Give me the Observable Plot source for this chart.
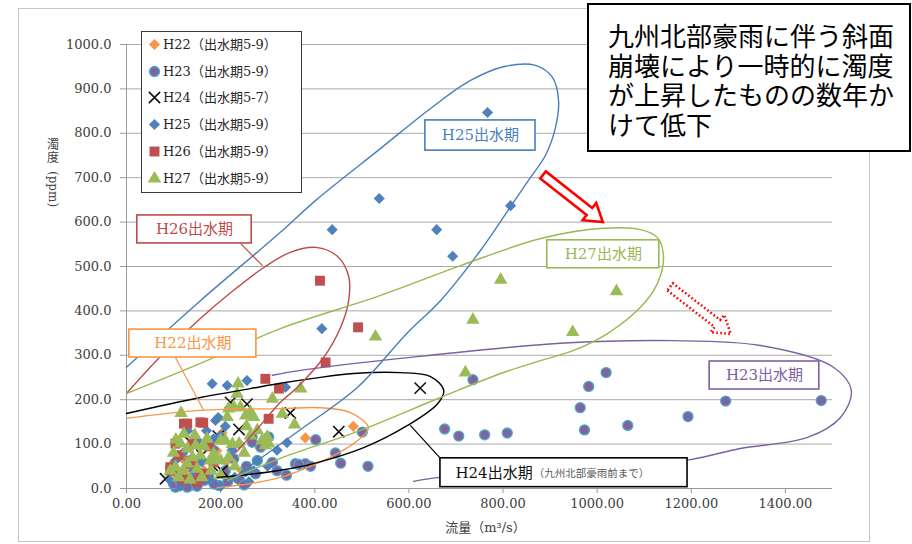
<!DOCTYPE html>
<html lang="ja">
<head>
<meta charset="utf-8">
<script src="https://cdn.jsdelivr.net/npm/d3@7"></script>
<script src="https://cdn.jsdelivr.net/npm/@observablehq/plot@0.6"></script>
<style>
  html, body { margin: 0; padding: 0; background: #fff; }
  #wrap { position: relative; width: 912px; height: 544px; overflow: hidden; }
  #wrap > svg { position: absolute; left: 0; top: 0; }
  #frame { position: absolute; left: 18px; top: 8px; width: 852px; height: 534px;
           border: 1.5px solid #c3c3c3; box-sizing: border-box; pointer-events: none; }
  .ytitle { position: absolute; font: 12px "DejaVu Serif", "Noto Sans CJK JP", serif; color: #404040;
            line-height: 12px; white-space: nowrap; }
  #ytitle-rot { transform-origin: 0 0; transform: rotate(90deg); }
  #legend { position: absolute; left: 141px; top: 31px; width: 161px; height: 162px;
            border: 1.5px solid #3a3a3a; background: #fff; box-sizing: border-box; }
  #legend .row { position: absolute; left: 0; height: 20px; line-height: 20px; white-space: nowrap;
                 font: 13px "DejaVu Serif", "Noto Sans CJK JP", serif; color: #262626; }
  #legend .row svg { position: absolute; left: 6px; top: 4px; }
  #legend .row span { position: absolute; left: 21px; }
  #note { position: absolute; left: 587px; top: 3px; width: 324px; height: 149px; box-sizing: border-box;
          border: 2px solid #000; background: #fff; padding: 15px 0 0 19px; white-space: nowrap;
          font: 26px "Noto Sans CJK JP", sans-serif; color: #000; }
  #note div { height: 29.5px; line-height: 29.5px; }
</style>
</head>
<body>
<div id="wrap"></div>
<script>
// Axis ticks
const xTicks = [0, 200, 400, 600, 800, 1000, 1200, 1400];
const yTicks = [0, 100, 200, 300, 400, 500, 600, 700, 800, 900, 1000];

// Series names (flood season, months)
const seriesNames = ["H22（出水期5-9）", "H23（出水期5-9）", "H24（出水期5-7）",
                     "H25（出水期5-9）", "H26（出水期5-9）", "H27（出水期5-9）"];

// Observations: [flow m³/s, turbidity ppm]
const h22 = [[203,125],[380,114],[482,140],[95,52],[102,35],[110,20],[118,68],[128,45],[140,28],
             [152,58],[165,40],[178,22],[192,85],[212,60],[228,95],[245,40],[160,100]];
const h23 = [[1019,261],[982,230],[964,182],[973,132],[1065,142],[1193,162],[1273,197],[1476,198],
             [736,245],[676,134],[706,118],[761,121],[809,125],[501,127],[402,110],[444,80],[455,57],
             [513,50],[359,56],[380,56],[391,50],[366,54],[267,116],[302,116],[285,93],[267,104],
             [278,63],[310,59],[274,33],[228,67],[210,40],[196,7],[186,10],[136,7],[129,3],[104,3],
             [100,10],[115,15],[150,5],[165,18],[240,20],[255,50],[320,40],[340,30],[120,30],[145,35],
             [175,30],[215,15],[250,8]];
const h24 = [[624,226],[451,128],[348,170],[221,194],[256,190],[239,133],[136,104],[195,118],
             [182,52],[203,40],[83,22],[160,75]];
const h25 = [[767,847],[537,653],[437,583],[659,583],[816,637],[693,523],[415,360],[338,228],
             [341,103],[320,86],[182,236],[214,232],[256,243],[189,153],[200,119],[185,89],[224,86],
             [278,63],[270,40],[253,37],[178,18],[143,40],[93,18],[104,63],[136,93],[150,108],
             [185,112],[195,160],[210,140],[120,80],[160,60],[230,25],[115,5],[150,10],[200,5],
             [260,15],[300,50],[240,100],[170,130],[130,130]];
const h26 = [[411,468],[492,363],[423,284],[295,247],[324,225],[302,157],[129,146],[157,149],
             [122,146],[163,148],[104,101],[136,63],[93,40],[93,48],[157,33],[185,59],[164,33],
             [97,44],[132,56],[110,75],[140,100],[175,95],[120,20],[150,15]];
const h27 = [[795,470],[1041,444],[948,352],[736,380],[529,342],[720,261],[370,225],[331,168],
             [357,144],[237,236],[235,213],[310,202],[270,161],[278,131],[288,108],[302,101],
             [228,183],[217,180],[242,183],[263,172],[214,161],[253,164],[263,119],[299,116],
             [295,97],[200,108],[239,101],[115,101],[122,123],[116,170],[171,112],[210,108],
             [147,97],[104,48],[129,56],[157,74],[185,78],[217,70],[178,63],[200,63],[150,44],
             [111,25],[93,40],[100,80],[130,90],[140,70],[165,95],[190,70],[225,100],[250,80],
             [120,40],[135,20],[160,25],[180,40],[200,30],[230,50],[105,110],[145,120],[255,140]];
const seriesData = [h22, h23, h24, h25, h26, h27];

// Marker styles per series (Excel-like palette)
const seriesStyle = [
  {symbol: "diamond2", r: 5, fill: "#f79646"},
  {symbol: "circle", r: 5, fill: "#8064a2", stroke: "#4bacc6", strokeWidth: 1.3},
  {symbol: "times", r: 5.2, fill: "none", stroke: "#111", strokeWidth: 1.6},
  {symbol: "diamond2", r: 5, fill: "#4f81bd"},
  {symbol: "square", r: 5.6, fill: "#c0504d"},
  {symbol: "triangle", r: 5, fill: "#9bbb59"}
];

// Hand-drawn outlines around each season's cloud of points, in [flow, turbidity]
const loopH22 = [[0,158],[157,176],[327,180],[412,182],[476,171],[514,137],[491,108],[433,70],
                 [370,41],[327,25],[263,11],[193,2]];
const loopH23 = [[310,255],[370,266],[582,293],[922,327],[1162,333],[1347,322],[1502,273],[1540,221],
                 [1517,160],[1447,115],[1304,90],[1198,65],[1007,41],[795,25],[667,25],[610,16]];
const loopH24 = [[0,169],[157,205],[263,225],[327,237],[397,248],[482,259],[582,261],[646,252],
                 [674,221],[661,191],[597,142],[504,92],[397,56],[327,41],[263,32],[193,25]];
const loopH25 = [[0,273],[157,423],[327,577],[402,649],[540,766],[646,856],[731,919],[805,951],
                 [869,953],[905,926],[918,874],[911,811],[890,750],[854,694],[816,635],[752,536],
                 [667,423],[597,351],[491,228],[370,133],[285,68],[212,11]];
const loopH26 = [[0,214],[68,293],[157,383],[221,441],[295,500],[348,532],[402,543],[448,523],
                 [472,478],[472,423],[455,363],[419,295],[363,228],[327,194],[280,137],[232,81]];
const loopH27 = [[0,214],[157,282],[327,360],[540,435],[710,502],[880,563],[1013,586],[1092,583],
                 [1128,565],[1141,520],[1128,462],[1092,408],[1022,349],[950,311],[880,288],[795,259],
                 [667,205],[497,131],[327,68],[215,18]];

const loops = [
  {pts: loopH22, color: "#f79646"},
  {pts: loopH23, color: "#7d60a0"},
  {pts: loopH24, color: "#000000"},
  {pts: loopH25, color: "#4a7ebb"},
  {pts: loopH26, color: "#be4b48"},
  {pts: loopH27, color: "#98b954"}
];

// Season callouts
const seasonLabels = [
  {text: "H25出水期", color: "#4a7ebb", x1: 635, x2: 869, y1: 761, y2: 829},
  {text: "H26出水期", color: "#be4b48", x1: 23, x2: 266, y1: 552, y2: 615},
  {text: "H22出水期", color: "#f79646", x1: 6, x2: 276, y1: 295, y2: 358},
  {text: "H27出水期", color: "#98b954", x1: 894, x2: 1132, y1: 496, y2: 559},
  {text: "H23出水期", color: "#7d60a0", x1: 1239, x2: 1472, y1: 223, y2: 286}
];
const h24Label = {x1: 667, x2: 1192, y1: 3, y2: 68, title: "H24出水期", titleX: 699,
                  sub: "（九州北部豪雨前まで）", subX: 865, y: 34};
const leaders = [
  {x1: 242, y1: 552, x2: 289, y2: 502, color: "#be4b48"},
  {x1: 104, y1: 295, x2: 164, y2: 176, color: "#f79646"},
  {x1: 667, y1: 68, x2: 603, y2: 142, color: "#000000"}
];

// Trend arrows (solid: after the heavy rain, dotted: later years)
const arrows = [
  {from: [886, 705], to: [1013, 599], dotted: false},
  {from: [1156, 453], to: [1285, 347], dotted: true}
];

const X = d => d[0], Y = d => d[1];
const serif = "'DejaVu Serif', 'Noto Sans CJK JP', serif";

const marks = [
  Plot.gridY(yTicks, {stroke: "#a9a9a9", strokeOpacity: 1}),
  Plot.axisY(yTicks, {tickSize: 6, tickPadding: 9, tickFormat: d3.format(".1f"), label: null,
                      stroke: "#9a9a9a", fill: "#404040", fontSize: 13}),
  Plot.axisX(xTicks, {tickSize: 5, tickPadding: 5, tickFormat: d3.format(".2f"), label: null,
                      stroke: "#9a9a9a", fill: "#404040", fontSize: 13}),
  Plot.ruleY([0], {stroke: "#9a9a9a"}),
  Plot.ruleX([0], {stroke: "#9a9a9a"}),
  ...seriesData.map((data, i) => Plot.dot(data, {x: X, y: Y, ...seriesStyle[i]})),
  ...loops.map(l => Plot.line(l.pts, {x: X, y: Y, curve: "catmull-rom", stroke: l.color, strokeWidth: 1.4})),
  Plot.link(leaders, {x1: "x1", y1: "y1", x2: "x2", y2: "y2", stroke: d => d.color, strokeWidth: 1.2}),
  Plot.rect(seasonLabels, {x1: "x1", x2: "x2", y1: "y1", y2: "y2", fill: "white", stroke: d => d.color, strokeWidth: 1.6}),
  Plot.text(seasonLabels, {x: d => (d.x1 + d.x2) / 2, y: d => (d.y1 + d.y2) / 2, text: "text",
                           fill: d => d.color, fontSize: 15}),
  Plot.rect([h24Label], {x1: "x1", x2: "x2", y1: "y1", y2: "y2", fill: "white", stroke: "#000", strokeWidth: 1.6}),
  Plot.text([h24Label], {x: "titleX", y: "y", text: "title", textAnchor: "start", fill: "#111", fontSize: 15}),
  Plot.text([h24Label], {x: "subX", y: "y", text: "sub", textAnchor: "start", fill: "#595959", fontSize: 10.5}),
  Plot.text(["流量（m³/s）"], {text: d => d, frameAnchor: "bottom", dy: 43, dx: 6, fill: "#404040", fontSize: 13})
];

const plot = Plot.plot({
  width: 912,
  height: 544,
  marginLeft: 126,
  marginRight: 80,
  marginTop: 44,
  marginBottom: 56,
  x: {domain: [0, 1500]},
  y: {domain: [0, 1000]},
  color: {type: "identity"},
  style: {fontFamily: serif, fontSize: "13px", color: "#404040", background: "transparent"},
  marks
});

// Block arrows drawn in screen space from their data-space endpoints
const sx = plot.scale("x"), sy = plot.scale("y");
const fx = d3.scaleLinear(sx.domain, sx.range), fy = d3.scaleLinear(sy.domain, sy.range);
const gArrows = d3.select(plot).append("g");
for (const a of arrows) {
  const p = [fx(a.from[0]), fy(a.from[1])], q = [fx(a.to[0]), fy(a.to[1])];
  const len = Math.hypot(q[0] - p[0], q[1] - p[1]);
  const u = [(q[0] - p[0]) / len, (q[1] - p[1]) / len], n = [-u[1], u[0]];
  const w = 4.5, W = 11, L = 17;
  const b = [q[0] - u[0] * L, q[1] - u[1] * L];
  const pt = (o, s) => [o[0] + n[0] * s, o[1] + n[1] * s];
  const poly = [pt(p, w), pt(b, w), pt(b, W), q, pt(b, -W), pt(b, -w), pt(p, -w)];
  gArrows.append("polygon")
    .attr("points", poly.map(d => d.join(",")).join(" "))
    .attr("fill", "white")
    .attr("stroke", "#ff0000")
    .attr("stroke-width", 2.6)
    .attr("stroke-linejoin", "miter")
    .attr("stroke-dasharray", a.dotted ? "1.6 2.4" : null);
}

const wrap = document.getElementById("wrap");
wrap.appendChild(plot);

// Outer chart border
const frame = document.createElement("div");
frame.id = "frame";
wrap.appendChild(frame);

// Y-axis title: kanji stacked upright, unit turned sideways
const yParts = [
  {text: "濁", left: 47, top: 139, rot: false},
  {text: "度", left: 47, top: 152, rot: false},
  {text: "(ppm)", left: 59, top: 171, rot: true}
];
for (const part of yParts) {
  const el = document.createElement("div");
  el.className = "ytitle";
  if (part.rot) el.id = "ytitle-rot";
  el.style.left = part.left + "px";
  el.style.top = part.top + "px";
  el.textContent = part.text;
  wrap.appendChild(el);
}

// Legend
const symbolTypes = {diamond2: d3.symbolDiamond2, circle: d3.symbolCircle, times: d3.symbolTimes,
                     square: d3.symbolSquare, triangle: d3.symbolTriangle};
const legend = document.createElement("div");
legend.id = "legend";
seriesNames.forEach((name, i) => {
  const s = seriesStyle[i];
  const row = document.createElement("div");
  row.className = "row";
  row.style.top = (1.8 + i * 26.8) + "px";
  const path = d3.symbol(symbolTypes[s.symbol], s.r * s.r * Math.PI)();
  row.innerHTML = `<svg width="13" height="13" viewBox="-6.5 -6.5 13 13"><path d="${path}" fill="${s.fill}"` +
    (s.stroke ? ` stroke="${s.stroke}" stroke-width="${s.strokeWidth}"` : "") + `/></svg><span>${name}</span>`;
  legend.appendChild(row);
});
wrap.appendChild(legend);

// Callout note
const noteLines = ["九州北部豪雨に伴う斜面", "崩壊により一時的に濁度", "が上昇したものの数年か", "けて低下"];
const note = document.createElement("div");
note.id = "note";
for (const line of noteLines) {
  const el = document.createElement("div");
  el.textContent = line;
  note.appendChild(el);
}
wrap.appendChild(note);
</script>
</body>
</html>
